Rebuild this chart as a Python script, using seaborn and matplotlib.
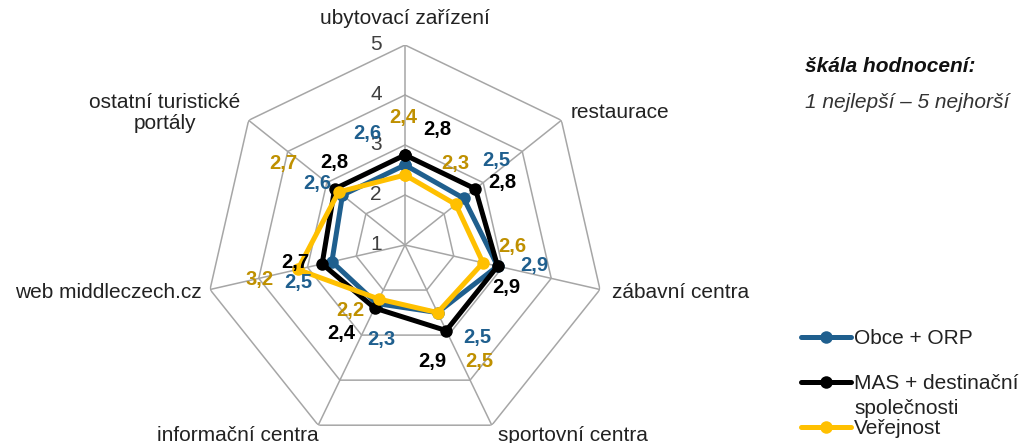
"""Radar chart: hodnocení zdrojů informací (škála 1 nejlepší - 5 nejhorší)."""
import matplotlib
matplotlib.use("Agg")
import matplotlib.pyplot as plt
import numpy as np
import pandas as pd
import seaborn as sns

# Data
categories = [
    "ubytovací zařízení",
    "restaurace",
    "zábavní centra",
    "sportovní centra",
    "informační centra",
    "web middleczech.cz",
    "ostatní turistické\nportály",
]
series = ["Obce + ORP", "MAS + destinační", "Veřejnost"]
obce_orp = [2.6, 2.5, 2.9, 2.5, 2.3, 2.5, 2.6]
mas_destinacni = [2.8, 2.8, 2.9, 2.9, 2.4, 2.7, 2.8]
verejnost = [2.4, 2.3, 2.6, 2.5, 2.2, 3.2, 2.7]
rings = [1, 2, 3, 4, 5]

# Styling
line_colors = ["#1f5f8e", "#000000", "#ffc000"]
text_colors = ["#1f5f8e", "#000000", "#bf9000"]
grid_color = "#a6a6a6"

# value label offsets in pixels (dx, dy) per series, per category
label_offsets = [
    [(-38, 32), (33, 38), (37, 1), (40, -25), (5, -36), (-34, -21), (-25, 12)],
    [(32, 26), (27, 6), (9, -21), (-14, -31), (-33, -25), (-27, 1), (0, 26)],
    [(-2, 58), (-1, 41), (29, 16), (42, -49), (-29, -11), (-38, -10), (-55, 29)],
]
# category label offsets (dx, dy, ha)
cat_offsets = [
    (0, 27, "center"),
    (9, 8, "left"),
    (12, -3, "left"),
    (6, -10, "left"),
    (0, -10, "right"),
    (-8, -3, "right"),
    (-84, 7, "center"),
]


def main() -> None:
    sns.set_theme(style="white")
    plt.rcParams["font.family"] = ["Liberation Sans", "DejaVu Sans"]

    n = len(categories)
    angles = np.arange(n) * 2 * np.pi / n
    closed = np.append(angles, 2 * np.pi)

    rows = []
    for name, vals in zip(series, [obce_orp, mas_destinacni, verejnost]):
        for th, v in zip(closed, vals + vals[:1]):
            rows.append({"theta": th, "value": v, "series": name})
    df = pd.DataFrame(rows)

    fig = plt.figure(figsize=(10.19, 4.43), dpi=100)
    ax = fig.add_axes([205 / 1019, -2 / 443, 400 / 1019, 400 / 443], projection="polar")
    ax.set_theta_offset(np.pi / 2)
    ax.set_theta_direction(-1)

    sns.lineplot(
        data=df, x="theta", y="value", hue="series", hue_order=series,
        palette=line_colors, estimator=None, sort=False, marker="o",
        markersize=9, markeredgewidth=0, linewidth=3.6, legend=False, ax=ax,
    )
    handles = list(ax.lines[:3])

    # polygon grid and spokes
    for r in rings[1:]:
        ax.plot(closed, [r] * len(closed), color=grid_color, lw=1.1, zorder=0)
    for a in angles:
        ax.plot([a, a], [rings[0], rings[-1]], color=grid_color, lw=1.1, zorder=0)

    ax.set_ylim(rings[0], rings[-1])
    ax.set_xticks([])
    ax.set_yticks([])
    ax.grid(False)
    ax.spines["polar"].set_visible(False)
    ax.set_xlabel("")
    ax.set_ylabel("")
    ax.patch.set_alpha(0)

    # radial tick labels
    for r in rings:
        ax.annotate(str(r), xy=(0, r), xytext=(-29, 0), textcoords="offset pixels",
                    ha="center", va="center", fontsize=15, color="#404040",
                    annotation_clip=False)

    # category labels
    for a, cat, (dx, dy, ha) in zip(angles, categories, cat_offsets):
        ax.annotate(cat, xy=(a, rings[-1]), xytext=(dx, dy), textcoords="offset pixels",
                    ha=ha, va="center", fontsize=15, color="#222222",
                    multialignment="center", linespacing=1.15, annotation_clip=False)

    # value labels
    for vals, col, offs in zip([obce_orp, mas_destinacni, verejnost], text_colors, label_offsets):
        for a, v, (dx, dy) in zip(angles, vals, offs):
            ax.annotate(f"{v:.1f}".replace(".", ","), xy=(a, v), xytext=(dx, dy),
                        textcoords="offset pixels", ha="center", va="center",
                        fontsize=14.5, fontweight="bold", color=col,
                        annotation_clip=False, zorder=5)

    # scale note
    fig.text(805 / 1019, 1 - 67 / 443, "škála hodnocení:", fontsize=15,
             fontweight="bold", fontstyle="italic", color="#111111", va="center")
    fig.text(805 / 1019, 1 - 102 / 443, "1 nejlepší – 5 nejhorší", fontsize=15,
             fontstyle="italic", color="#333333", va="center")

    # legend
    leg = fig.legend(
        handles=handles, labels=series, loc="upper left",
        bbox_to_anchor=(801 / 1019, 1 - 329 / 443), frameon=False,
        fontsize=15, handlelength=2.4, handletextpad=0.15, labelspacing=1.25,
        borderpad=0, borderaxespad=0,
    )
    for t in leg.get_texts():
        t.set_color("#222222")
    fig.text(854 / 1019, 1 - 408 / 443, "společnosti", fontsize=15,
             color="#222222", va="center")

    fig.savefig("out.png", dpi=100)
    plt.close(fig)


if __name__ == "__main__":
    main()
